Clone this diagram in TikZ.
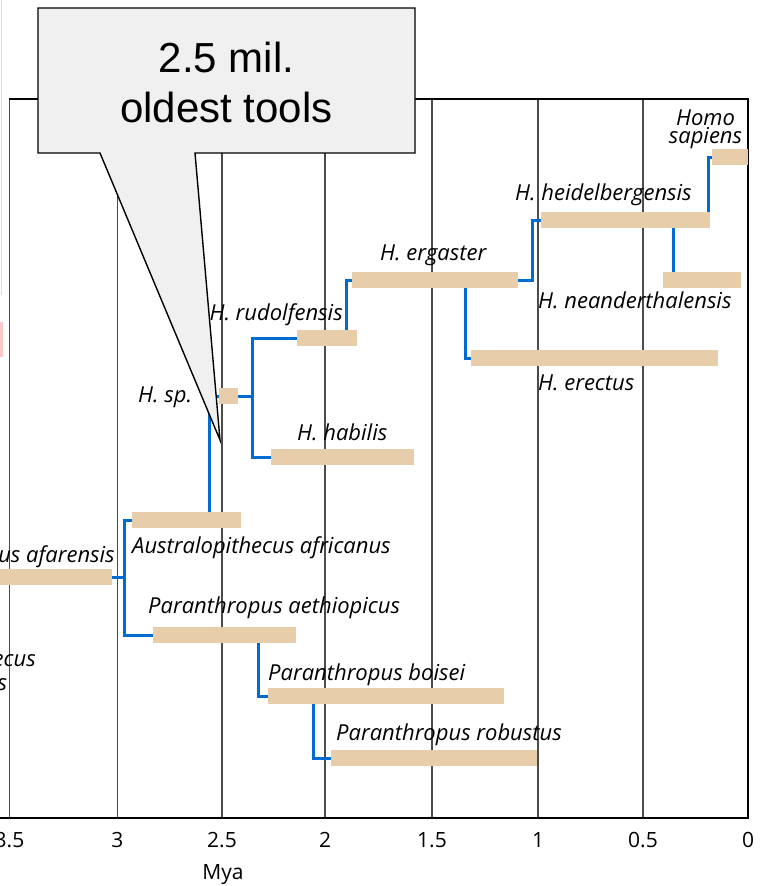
\documentclass[tikz,border=0pt]{standalone}
\usepackage{fontspec}
\setmainfont{Liberation Sans}
\newfontfamily\labfont{Open Sans}
\usetikzlibrary{calc}
\definecolor{bartan}{RGB}{231,205,169}
\definecolor{linkblue}{RGB}{0,108,210}
\definecolor{gridgray}{RGB}{75,75,75}
\definecolor{calloutfill}{RGB}{240,240,240}
\definecolor{edgegray}{RGB}{222,222,222}
\definecolor{edgepink}{RGB}{250,200,200}
\begin{document}
\begin{tikzpicture}[x=1pt,y=-1pt,
  bar/.style={fill=bartan, draw=none, inner sep=0pt, anchor=north west, minimum height=16pt},
  link/.style={draw=linkblue, line width=3pt},
  lab/.style={font=\fontsize{22}{24}\selectfont\labfont\itshape, inner sep=0pt},
  ticklab/.style={font=\fontsize{21}{24}\selectfont\labfont, inner sep=0pt, anchor=base},
  gridline/.style={draw=gridgray, line width=1.2pt},
  callout/.style={fill=calloutfill, draw=black, line width=1.4pt, line join=miter},
  callouttext/.style={font=\fontsize{42}{50}\selectfont, inner sep=0pt, anchor=base}]
\useasboundingbox (0,0) rectangle (761,886);
\fill[white] (0,0) rectangle (761,886);
% screenshot artefacts on the left edge
\draw[draw=edgegray, line width=1pt] (1.5,0) -- (1.5,295);
\fill[edgepink] (0,322) rectangle (2.5,357);
% grid
\foreach \gx in {117.5,222,325,432,538,643}
  \draw[gridline] (\gx,98) -- (\gx,818);
% frame
\draw[draw=gridgray, line width=1.5pt] (9.5,98) -- (9.5,818);
\draw[black, line width=2pt] (9,98.5) -- (748,98.5);
\draw[black, line width=2.5pt] (748,97.5) -- (748,818) -- (0,818);
% axis labels
\node[ticklab] (t35) at (9.5,847) {3.5};
\node[ticklab] (t30) at (117.5,847) {3};
\node[ticklab] (t25) at (222,847) {2.5};
\node[ticklab] (t20) at (325,847) {2};
\node[ticklab] (t15) at (432,847) {1.5};
\node[ticklab] (t10) at (538,847) {1};
\node[ticklab] (t05) at (643,847) {0.5};
\node[ticklab] (t00) at (748,847) {0};
\node[ticklab] (mya) at (223,879) {Mya};
% bars
\node[bar, minimum width=36pt] (sap) at (712,149) {};
\node[bar, minimum width=169pt] (heid) at (541,212) {};
\node[bar, minimum width=78pt] (nean) at (663,272) {};
\node[bar, minimum width=166pt] (erg) at (352,272) {};
\node[bar, minimum width=247pt] (ere) at (471,350) {};
\node[bar, minimum width=60pt] (rud) at (297,330) {};
\node[bar, minimum width=19pt] (hsp) at (219,388) {};
\node[bar, minimum width=143pt] (hab) at (271,449) {};
\node[bar, minimum width=109pt] (afr) at (132,512) {};
\node[bar, minimum width=122pt] (afa) at (-10,569) {};
\node[bar, minimum width=143pt] (aet) at (153,627) {};
\node[bar, minimum width=236pt] (boi) at (268,688) {};
\node[bar, minimum width=206pt] (rob) at (331,750) {};
% connectors
\draw[link] ($(heid.north east)+(-2,0)$) |- (sap.west);
\draw[link] (erg.east) -- ++(14,0) |- (heid.west);
\draw[link] ($(heid.south west)+(132,0)$) -- ($(nean.north west)+(10,0)$);
\draw[link] ($(erg.south west)+(113,0)$) |- (ere.west);
\draw[link] ($(rud.north east)+(-11,0)$) |- (erg.west);
\draw[link] (rud.west) -- ++(-45,0) |- (hab.west);
\draw[link] (hsp.east) -- ++(14,0);
\draw[link] ($(afr.north west)+(77,0)$) |- (hsp.west);
\draw[link] (afr.west) -- ++(-8,0) |- (aet.west);
\draw[link] (afa.east) -- ++(12,0);
\draw[link] ($(aet.south west)+(105,0)$) |- (boi.west);
\draw[link] ($(boi.south west)+(45,0)$) |- (rob.west);
% labels
\node[lab, align=center, anchor=north, font=\fontsize{22}{18}\selectfont\labfont\itshape] (lhomo) at (705.5,109.5) {Homo\\sapiens};
\node[lab, anchor=base west] (lheid) at (515,200) {H. heidelbergensis};
\node[lab, anchor=base west] (lnean) at (538,308) {H. neanderthalensis};
\node[lab, anchor=base west] (lerg) at (380,260) {H. ergaster};
\node[lab, anchor=base west] (lere) at (538,390) {H. erectus};
\node[lab, anchor=base east] (lrud) at (343,320) {H. rudolfensis};
\node[lab, anchor=base west] (lhsp) at (138,402) {H. sp.};
\node[lab, anchor=base west] (lhab) at (297,440) {H. habilis};
\node[lab, anchor=base west] (lafr) at (132,553) {Australopithecus africanus};
\node[lab, anchor=base east] (lafa) at (115,562) {Australopithecus afarensis};
\node[lab, anchor=base east] (lana) at (36,666) {Australopithecus};
\node[lab, anchor=base] (lana2) at (lana.base |- 0,690) {anamensis};
\node[lab, anchor=base west] (laet) at (148,613) {Paranthropus aethiopicus};
\node[lab, anchor=base west] (lboi) at (268,680) {Paranthropus boisei};
\node[lab, anchor=base west] (lrob) at (336,740) {Paranthropus robustus};
% callout
\draw[callout] (38,8) -- (415,8) -- (415,153) -- (195,153) -- (220,440) -- (100,153) -- (38,153) -- cycle;
\node[callouttext] (c1) at (226.5,72) {2.5 mil.};
\node[callouttext] (c2) at (226.5,122) {oldest tools};
\end{tikzpicture}
\end{document}
